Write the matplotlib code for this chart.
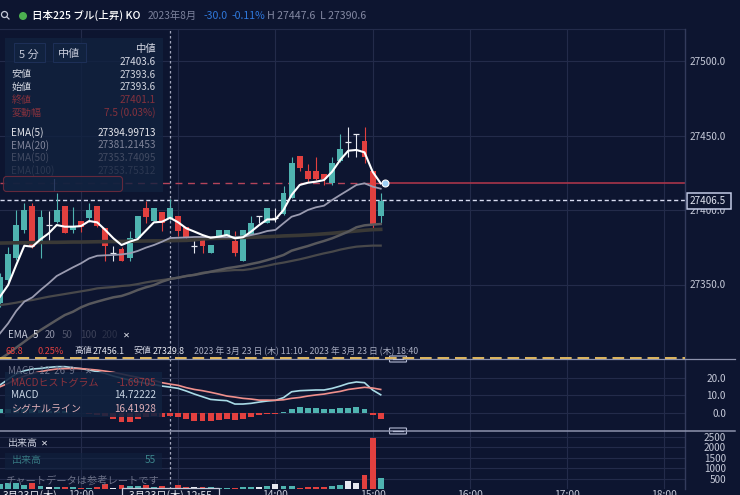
import numpy as np
import matplotlib
matplotlib.use("Agg")
import matplotlib.pyplot as plt
from matplotlib.patches import Rectangle, FancyBboxPatch, Circle

plt.rcParams['font.family'] = ['Noto Sans CJK JP', 'DejaVu Sans']

# ---------- data (oldest bar first, 5-minute bars) ----------
opens = [27337.3,27353.0,27367.5,27386.6,27402.9,27377.6,27389.9,27392.1,27402.9,27386.6,27392.6,27394.4,
         27402.9,27387.7,27370.9,27373.8,27368.0,27381.0,27401.5,27392.8,27398.9,27394.4,27396.2,27388.8,
         27375.8,27379.9,27370.9,27381.7,27381.7,27379.4,27366.0,27383.2,27396.0,27391.1,27394.4,27397.3,
         27408.3,27436.2,27426.2,27426.2,27423.9,27418.3,27433.1,27445.9,27451.0,27446.3,27426.2,27396.0]
highs = [27358.0,27375.4,27400.0,27404.9,27404.5,27400.0,27399.5,27411.2,27402.9,27402.2,27392.6,27404.5,
         27402.9,27387.7,27375.8,27375.4,27386.1,27396.2,27406.0,27401.5,27398.9,27407.1,27396.2,27388.8,
         27380.3,27379.9,27376.5,27386.6,27386.6,27386.1,27386.6,27396.0,27396.0,27401.3,27401.1,27416.1,
         27435.8,27436.2,27430.9,27435.8,27423.9,27435.8,27451.0,27455.9,27451.0,27455.9,27426.2,27411.2]
lows = [27335.1,27351.9,27366.4,27384.8,27374.3,27367.5,27379.9,27391.0,27384.3,27384.3,27385.4,27392.1,
        27388.8,27366.0,27366.0,27366.0,27366.0,27380.3,27391.5,27392.8,27386.1,27393.3,27382.5,27381.0,
        27370.9,27371.4,27370.9,27381.7,27381.7,27369.1,27366.0,27383.2,27391.1,27391.1,27392.2,27396.6,
        27408.3,27426.4,27419.0,27420.1,27416.8,27416.8,27432.4,27435.8,27435.3,27431.3,27387.0,27391.1]
closes = [27355.2,27370.2,27389.9,27400.0,27374.9,27395.1,27389.9,27400.0,27384.8,27389.5,27388.8,27400.0,
          27389.2,27375.8,27370.9,27366.0,27381.0,27396.2,27395.5,27401.5,27391.0,27401.5,27386.1,27382.1,
          27375.8,27375.8,27376.5,27386.6,27386.6,27370.9,27386.6,27391.5,27396.0,27401.3,27394.4,27411.2,
          27431.3,27428.0,27420.6,27420.8,27420.6,27431.3,27440.9,27445.9,27451.0,27435.8,27390.4,27406.3]
ema5 = [27341.8,27349.6,27363.1,27376.0,27375.4,27380.3,27384.3,27389.9,27388.8,27388.8,27389.2,27392.6,
        27391.7,27386.6,27381.0,27376.5,27378.7,27380.5,27386.1,27391.7,27392.1,27394.8,27391.7,27387.7,
        27385.5,27383.2,27381.4,27382.1,27383.2,27381.0,27381.7,27385.5,27389.9,27393.7,27393.7,27400.0,
        27410.1,27416.8,27418.3,27419.0,27420.1,27425.7,27433.6,27439.8,27440.3,27438.7,27425.7,27417.9]
ema20 = [27317.2,27323.9,27332.2,27338.5,27341.4,27346.3,27350.8,27355.7,27358.6,27361.5,27364.2,27367.5,
         27369.3,27369.6,27369.8,27370.2,27370.9,27372.5,27374.7,27376.5,27378.7,27381.2,27381.4,27381.6,
         27381.9,27381.9,27381.7,27381.7,27381.7,27381.7,27381.9,27383.2,27384.3,27385.9,27386.6,27391.1,
         27395.5,27397.1,27400.0,27401.8,27402.9,27406.7,27410.1,27413.4,27416.8,27417.9,27415.7,27414.3]
ema50 = [27300.0,27303.5,27307.6,27311.6,27315.6,27319.4,27322.8,27326.2,27329.5,27331.7,27334.7,27336.9,
         27338.5,27340.0,27341.4,27342.3,27344.1,27346.3,27348.1,27349.6,27351.9,27353.7,27354.6,27355.7,
         27356.4,27357.5,27358.6,27359.7,27360.9,27361.7,27362.6,27363.8,27364.9,27366.4,27368.0,27369.8,
         27372.7,27374.3,27375.8,27377.6,27379.2,27381.0,27383.2,27385.5,27388.4,27389.7,27390.2,27390.6]
ema100 = [27336.2,27336.9,27337.8,27338.9,27339.6,27340.7,27341.8,27342.7,27343.6,27344.5,27345.4,27346.3,
          27347.4,27347.9,27348.3,27349.0,27349.4,27350.3,27351.4,27352.3,27353.0,27353.7,27354.6,27355.7,
          27356.6,27357.9,27358.4,27358.8,27359.3,27359.7,27359.7,27360.4,27361.5,27362.6,27363.8,27364.7,
          27365.8,27366.9,27368.2,27369.6,27370.9,27372.0,27373.4,27374.5,27375.4,27375.8,27376.1,27376.1]
ema200 = [27377.8,27377.9,27378.0,27378.0,27378.1,27378.2,27378.3,27378.3,27378.4,27378.5,27378.5,27378.6,
          27378.7,27378.8,27378.8,27378.9,27379.0,27379.1,27379.2,27379.3,27379.3,27379.4,27379.5,27379.6,
          27380.0,27380.6,27380.9,27381.0,27381.2,27381.4,27381.6,27381.7,27381.9,27382.1,27382.3,27382.6,
          27382.8,27383.0,27383.3,27383.6,27384.0,27384.4,27384.9,27385.4,27385.9,27386.4,27386.8,27387.0]
macd = [15.9,19.1,22.1,23.9,24.9,25.2,25.8,26.2,26.2,25.6,25.1,24.3,23.4,22.4,20.9,19.8,18.7,17.8,16.8,16.1,
        15.3,14.7,14.0,12.5,10.8,9.3,7.8,7.4,7.1,5.2,5.2,5.6,6.3,6.9,7.3,8.8,12.1,12.7,12.9,13.1,13.1,14.0,
        15.3,16.8,17.6,17.2,13.1,10.4]
signal = [14.9,16.8,19.1,20.9,22.4,23.4,24.3,24.9,25.1,25.2,25.1,24.7,24.3,23.7,23.0,22.1,21.1,20.2,19.2,18.5,
          17.2,16.4,15.7,14.4,13.4,12.7,11.8,10.8,9.7,9.1,8.4,8.0,7.4,7.4,7.3,7.6,8.4,8.9,9.7,10.3,10.8,11.6,
          12.3,13.4,14.0,14.6,14.2,13.4]
hist = [2.6,2.3,3.0,3.0,2.5,1.8,1.5,1.3,1.1,0.4,0.0,-0.4,-0.9,-1.3,-3.4,-4.7,-4.7,-3.4,-1.9,-1.5,-1.9,-1.7,
        -2.2,-3.2,-4.1,-4.3,-4.5,-4.0,-3.4,-3.7,-3.0,-2.1,-1.1,-0.6,-0.2,1.0,2.6,3.4,3.2,2.8,2.4,2.4,2.8,3.2,
        3.4,2.6,-1.1,-3.0]
volume = [230,300,300,190,270,160,80,110,80,110,65,65,110,240,65,175,160,160,175,95,145,55,175,80,
          110,95,80,50,50,65,110,110,110,130,255,160,160,65,110,95,110,160,210,385,300,655,2460,510]
price_ticks = [27350.0,27400.0,27450.0,27500.0]
macd_ticks = [0.0,10.0,20.0]
volume_ticks = [500,1000,1500,2000,2500]
time_pos = [10,22,34,46,58,70,82]
time_labels = ['12:00','','14:00','15:00','16:00','17:00','18:00']
last_price = 27406.5
ema_level = 27418.0
cross_i = 21

# ---------- style ----------
BG = '#0d1530'
GRID = '#232b4a'
TEAL = '#4fb3b0'
RED = '#e2403f'
WHITE = '#e6e8f0'
W, H = 740, 495
PX = 8.1

fig = plt.figure(figsize=(W/100, H/100), dpi=100, facecolor=BG)

def pane(y0, y1):
    ax = fig.add_axes([0, 1-y1/H, 685/W, (y1-y0)/H], facecolor=BG)
    ax.set_xlim(0, 685/PX)
    for s in ax.spines.values():
        s.set_visible(False)
    ax.yaxis.tick_right()
    ax.tick_params(axis='y', length=0, pad=29.5, labelcolor='#c5c9d8', labelsize=7.2)
    ax.tick_params(axis='x', length=0, pad=0.5, labelcolor='#c5c9d8', labelsize=7.4)
    ax.set_xticks(time_pos)
    ax.set_xticklabels([])
    ax.grid(True, color=GRID, lw=0.8)
    ax.set_axisbelow(True)
    ax.axvline(cross_i, color='#c8cce0', lw=0.9, ls=(0, (2, 2)), alpha=0.8, zorder=1)
    return ax

def set_yt(ax, ticks, labels):
    ax.set_yticks(ticks)
    ax.set_yticklabels(labels, ha='right')

xs = np.arange(len(opens))
colors = [WHITE if o == c else (TEAL if c > o else RED) for o, c in zip(opens, closes)]

# main pane
ax = pane(29, 358)
ax.set_ylim(27350-(358-284.5)/1.49, 27500+(61-29)/1.49)
set_yt(ax, price_ticks, [f'{v:.1f}' for v in price_ticks])
ax.vlines(xs, lows, highs, colors=colors, lw=0.8, zorder=3)
for x, o, c, col in zip(xs, opens, closes, colors):
    if o == c:
        ax.hlines(o, x-0.36, x+0.36, colors=col, lw=0.9, zorder=3)
    else:
        ax.bar(x, abs(c-o), bottom=min(o, c), width=0.72, color=col, zorder=3)
ax.plot(xs, ema200, color='#3a3936', lw=2.6, zorder=4)
ax.plot(xs, ema100, color='#48484a', lw=1.6, zorder=4)
ax.plot(xs, ema50, color='#58585c', lw=1.8, zorder=4)
ax.plot(xs, ema20, color='#9a9bb0', lw=1.3, zorder=5)
ax.plot(xs, ema5, color='white', lw=1.5, zorder=6)
ax.plot([0, 47.5], [ema_level]*2, color='#b5445a', lw=1.0, ls=(0, (5, 4)), zorder=2)
ax.plot([47.5, 685/PX], [ema_level]*2, color='#a8354a', lw=1.2, zorder=2)
ax.axhline(last_price, color='#d8dcf0', lw=1.0, ls=(0, (3, 2)), zorder=2)
ax.plot([47.5], [ema_level], 'o', ms=5, mfc='#9fd0f5', mec='white', mew=0.8, zorder=7)

# MACD pane
am = pane(358, 431)
am.set_ylim(20-(431-377.7)/1.78, 20+(377.7-358)/1.78)
set_yt(am, macd_ticks, [f'{v:.1f}' for v in macd_ticks])
am.bar(xs, hist, width=0.72, color=[TEAL if h > 0 else RED for h in hist], zorder=3)
am.plot(xs, macd, color='#a9dbe6', lw=1.2, zorder=4)
am.plot(xs, signal, color='#f0908c', lw=1.2, zorder=4)

# volume pane
av = pane(431, 489)
av.set_ylim(0, 2500*58/52)
set_yt(av, volume_ticks, [str(v) for v in volume_ticks])
av.bar(xs, volume, width=0.72, color=colors, zorder=3)
av.set_xticklabels(time_labels, va='top')

# overlay in pixel space for HUD elements
ov = fig.add_axes([0, 0, 1, 1], facecolor='none', zorder=10)
ov.set_xlim(0, W)
ov.set_ylim(H, 0)
ov.axis('off')

def T(x, y, s, c='#e6e8f0', size=7.2, ha='left', alpha=1.0, weight='normal'):
    ov.text(x, y, s, color=c, fontsize=size, ha=ha, va='center', alpha=alpha, fontweight=weight)

def panel(x0, y0, x1, y1, a=0.8):
    ov.add_patch(Rectangle((x0, y0), x1-x0, y1-y0, fc='#11223f', ec='none', alpha=a))

def line(x0, y0, x1, y1, c, lw=0.8, **k):
    ov.plot([x0, x1], [y0, y1], color=c, lw=lw, **k)

# frame lines
line(0, 28.5, 685, 28.5, GRID)
line(685, 28.5, 685, 489, '#333b5c', 1.0)
line(0, 358.5, 735, 358.5, '#8d93ad', 0.9)
line(0, 358, 685, 358, '#e0b860', 1.4, ls=(0, (6, 3)))
line(0, 431, 735, 431, '#8d93ad', 1.1)
for y in (359, 431):
    ov.add_patch(FancyBboxPatch((390, y-2.5), 16, 5, boxstyle='round,pad=0.5', fc=BG, ec='#b5bbd4', lw=0.8))
    line(393, y, 403, y, '#b5bbd4', 0.9)

# title row
ov.add_patch(Circle((4.5, 14.5), 3, fc='none', ec='#c5c9d8', lw=0.9))
line(6.8, 16.8, 9, 19, '#c5c9d8', 0.9)
ov.add_patch(Circle((23, 16), 4, fc='#4caf50', ec='none'))
T(32, 15.5, '日本225 ブル(上昇) KO', 'white', 7.6, weight='medium')
T(148, 16, '2023年8月', '#7c829c', 7.4)
T(204, 16, '-30.0', '#2f78dc', 7.6)
T(232, 16, '-0.11%', '#2f78dc', 7.6)
T(267, 16, 'H 27447.6  L 27390.6', '#8388a2', 7.6)

# info panel
panel(5, 38, 163, 192)
ov.add_patch(Rectangle((14, 43), 31, 19, fc='#11223f', ec='#1e3058', lw=0.7))
ov.add_patch(Rectangle((53, 43), 33, 19, fc='#11223f', ec='#1e3058', lw=0.7))
T(29, 54.5, '5 分', '#c5c9d8', 8, ha='center')
T(69.5, 54, '中値', '#c5c9d8', 8, ha='center')
T(156, 48.5, '中値', '#d8dbe6', 7.4, ha='right')
T(156, 62, '27403.6', '#d8dbe6', 7.2, ha='right')
for y, name, val, col, a in [(74.5, '安値', '27393.6', '#e6e8f0', 0.9),
                             (87, '始値', '27393.6', '#e6e8f0', 0.9),
                             (100, '終値', '27401.1', RED, 0.55),
                             (113, '変動幅', '7.5 (0.03%)', RED, 0.55),
                             (133, 'EMA(5)', '27394.99713', '#f0f0f5', 0.95),
                             (145.5, 'EMA(20)', '27381.21453', '#9a9cb0', 0.8),
                             (158, 'EMA(50)', '27353.74095', '#6a6e82', 0.55),
                             (171, 'EMA(100)', '27353.75312', '#6a6e82', 0.3)]:
    T(11.5, y, name, col, 7.2, alpha=a)
    T(156, y, val, col, 7.2, ha='right', alpha=a)
ov.add_patch(FancyBboxPatch((4, 177), 118, 14, boxstyle='round,pad=0.5,rounding_size=3', fc='#11223f',
                            ec='#7a2c3c', lw=0.8, alpha=0.8))
line(54, 179, 54, 190, '#2a3a60', 0.8)

# price tag
ov.add_patch(Rectangle((686.5, 193), 44, 15.5, fc=BG, ec='#c3cbe6', lw=1.1))
T(726, 201, '27406.5', '#e0e4f0', 7.2, ha='right')

# EMA legend
T(8, 335, 'EMA', '#c5c9d8', 7)
T(33, 335, '5', '#e6e8f0', 7)
T(45, 335, '20', '#8d90a4', 7)
T(62, 335, '50', '#4d5268', 7)
T(80, 335, '100', '#3c4158', 7)
T(102, 335, '200', '#2a3048', 7)
T(123, 335, '✕', '#e6e8f0', 6)

# range row
T(5, 351, '68.8', RED, 6.6)
T(38, 351, '0.25%', RED, 6.6)
T(74, 351, '高値', '#d0d3e0', 6.4)
T(93, 351, '27456.1', '#e6e8f0', 6.4)
T(134, 351, '安値', '#d0d3e0', 6.4)
T(153, 351, '27329.8', '#e6e8f0', 6.4)
T(194, 351, '2023 年 3月 23 日 (木) 11:10 - 2023 年 3月 23 日 (木) 18:40', '#a9aec2', 6.3)

# MACD panel
panel(5, 372, 162, 417, 0.88)
T(8, 371.5, 'MACD  12  26  9', '#7b8096', 7, alpha=0.85)
T(85, 371.5, '✕', '#7b8096', 6)
T(11.5, 383, 'MACDヒストグラム', RED, 7.2, alpha=0.6)
T(156, 383, '-1.69705', RED, 7.2, ha='right', alpha=0.6)
T(11.5, 395.5, 'MACD', '#c9d5e4', 7.2)
T(156, 395.5, '14.72222', '#c9d5e4', 7.2, ha='right')
T(11.5, 408.5, 'シグナルライン', '#e0b0b8', 7.2)
T(156, 408.5, '16.41928', '#e0b0b8', 7.2, ha='right')

# volume panel
panel(5, 453, 162, 470, 0.6)
T(8, 443, '出来高', '#c5c9d8', 7.2)
T(41, 443.5, '✕', '#e6e8f0', 6)
T(11.5, 460, '出来高', TEAL, 7.2, alpha=0.6)
T(156, 460, '55', TEAL, 7.2, ha='right', alpha=0.7)
T(5, 480.5, 'チャートデータは参考レートです', '#6c7188', 7.4)

# date at the left of the time axis and crosshair time box
ov.text(30, 489.5, '3月23日(木)', color='#e6e8f0', fontsize=7.4, ha='center', va='top')
ov.add_patch(Rectangle((122, 488), 97, 12, fc=BG, ec='#c5c9d8', lw=0.9))
ov.text(170.5, 489.5, '3月23日(木) 12:55', color='#e6e8f0', fontsize=7.4, ha='center', va='top')

fig.savefig('out.png', dpi=100, facecolor=BG)
